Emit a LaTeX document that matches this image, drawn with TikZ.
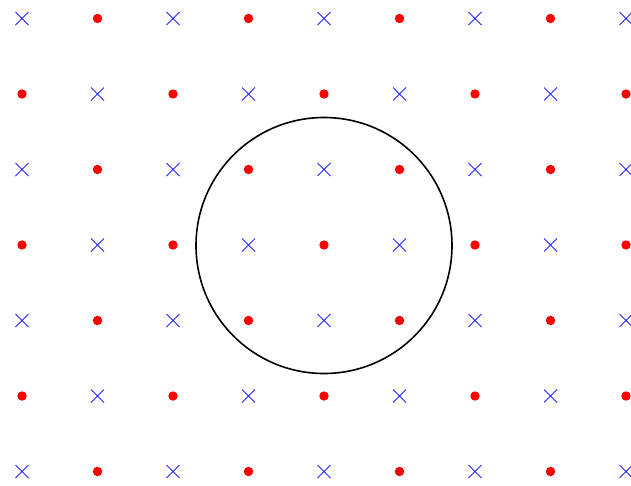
\documentclass[tikz,border=0pt]{standalone}
\begin{document}
\begin{tikzpicture}[x=1pt,y=-1pt,
  crossmark/.style={draw=blue!85!white,line width=0.9pt},
  dotmark/.style={fill=red,draw=none},
  ring/.style={draw=black,line width=1.6pt}]
\useasboundingbox (0,0) rectangle (631,485);
\foreach \i in {0,...,8} {
  \foreach \j in {0,...,6} {
    \pgfmathsetmacro{\cx}{22+75.5*\i}
    \pgfmathsetmacro{\cy}{18.5+75.5*\j}
    \pgfmathtruncatemacro{\parity}{mod(\i+\j,2)}
    \ifnum\parity=0
      \draw[crossmark] (\cx-6.5,\cy-6.5) -- (\cx+6.5,\cy+6.5) (\cx-6.5,\cy+6.5) -- (\cx+6.5,\cy-6.5);
    \else
      \fill[dotmark] (\cx,\cy) circle (4.7);
    \fi
  }
}
\node[ring,circle,minimum size=256pt,inner sep=0pt] (c) at (324,245.5) {};
\end{tikzpicture}
\end{document}
